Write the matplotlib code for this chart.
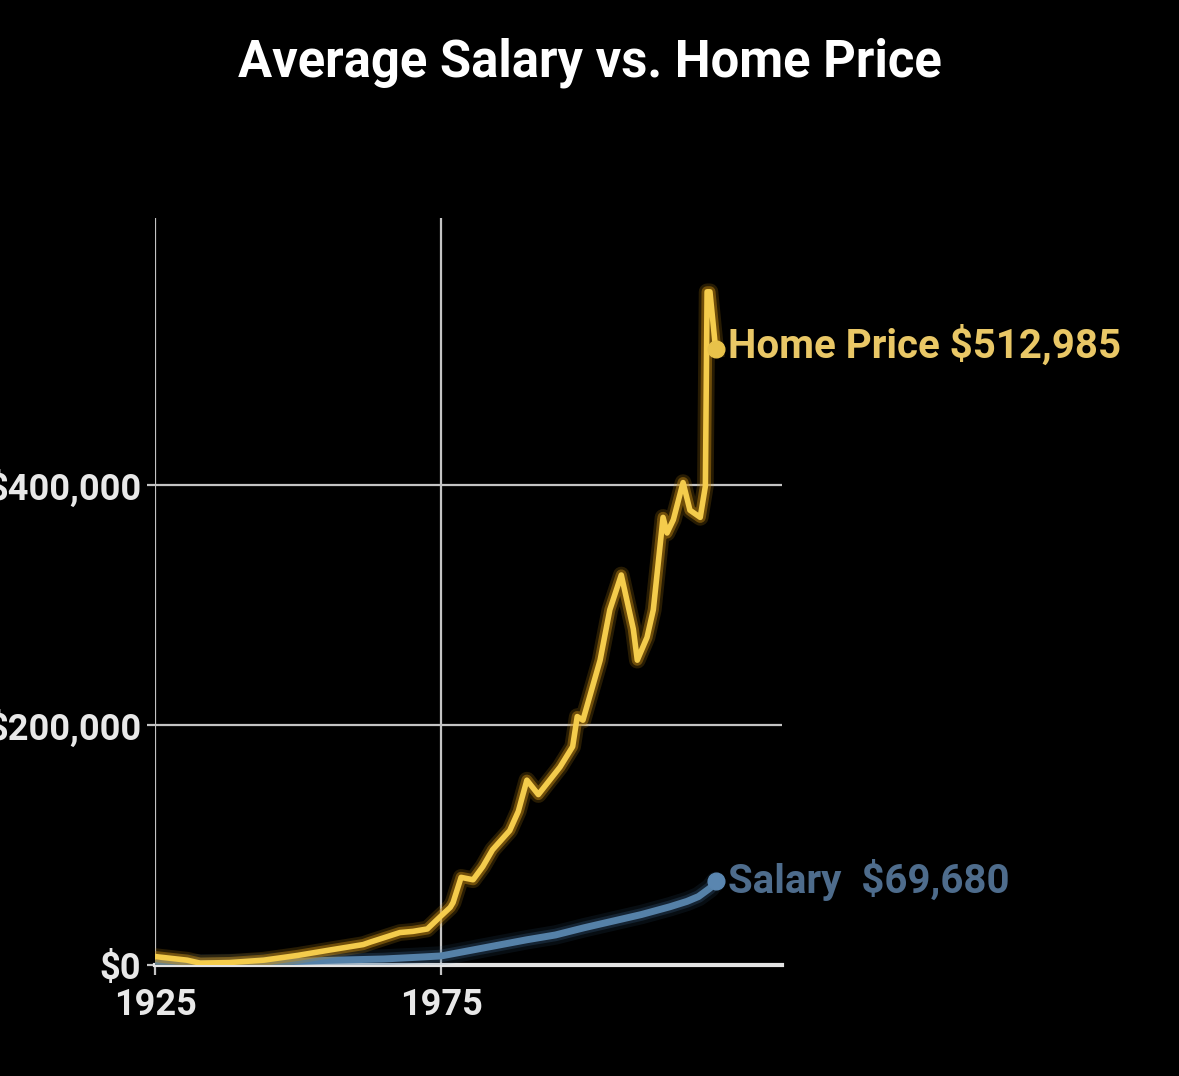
import matplotlib
matplotlib.use("Agg")
import matplotlib.pyplot as plt
import matplotlib.patheffects as pe
from matplotlib.ticker import FuncFormatter

# home price
home_years = [1925, 1930.6, 1932.9, 1938, 1944, 1950, 1955.6, 1961.4, 1962.6, 1967.8,
              1970.1, 1972.6, 1974.8, 1976.6, 1977.1, 1978.5, 1980.6, 1982.3, 1984,
              1987, 1988.5, 1990, 1992, 1995.8, 1998, 1998.8, 1999.8, 2002.8, 2004.5,
              2006.5, 2008.6, 2009.3, 2011, 2012.1, 2013.8, 2014.5, 2015.6, 2017.3,
              2018.5, 2020.3, 2021.2, 2021.5, 2022.0, 2023.0]
home_price = [7000, 4000, 1500, 2000, 4000, 8000, 12500, 17000, 19000, 27000,
              28000, 30000, 40000, 48000, 52000, 73000, 71000, 82000, 96000,
              112000, 128000, 154000, 142000, 165000, 182000, 207000, 204000, 254000, 296000,
              325000, 280000, 254000, 273000, 296000, 373000, 360000, 371000, 402000,
              379000, 373000, 399000, 561000, 561000, 512985]

# average salary
salary_years = [1925, 1933, 1940, 1950, 1955, 1960, 1965, 1970, 1975, 1980, 1985,
                1990, 1995, 2000, 2005, 2010, 2015, 2018, 2020, 2022, 2023.0]
salary = [1500, 1000, 1300, 3000, 3800, 4400, 5000, 6200, 7500, 12000, 16500,
          21000, 25000, 31000, 36500, 42000, 48500, 53000, 57000, 64000, 69680]

x_ticks = [1925, 1975]
y_ticks = [0, 200000, 400000]

title = "Average Salary vs. Home Price"
home_label = "Home Price $512,985"
salary_label = "Salary  $69,680"

font = "Roboto"
gold = "#f4cc4c"
blue = "#5581a8"
grid_col = "#c4c4c4"


def glow(color, widths=(13, 9), alphas=(0.15, 0.3)):
    # a few wide, faint strokes under the line
    effects = [pe.Stroke(linewidth=w, foreground=color, alpha=a) for w, a in zip(widths, alphas)]
    return effects + [pe.Normal()]


fig = plt.figure(figsize=(11.79, 10.76), dpi=100, facecolor="black")
ax = fig.add_axes([0.1315, 0.1032, 0.5318, 0.6942], facecolor="black")

ax.set_xlim(1925, 2034.6)
ax.set_ylim(0, 622500)

ax.set_xticks(x_ticks)
ax.set_yticks(y_ticks)
ax.yaxis.set_major_formatter(FuncFormatter(lambda v, p: "${:,.0f}".format(v)))
ax.grid(True, color=grid_col, linewidth=1.6)
ax.set_axisbelow(True)
ax.tick_params(axis="x", colors=grid_col, length=7, width=1.6, pad=9,
               labelsize=26, labelcolor="#e8e8e8")
ax.tick_params(axis="y", colors=grid_col, length=6, width=1.6, pad=4,
               labelsize=26, labelcolor="#e8e8e8")
for lab in ax.get_xticklabels() + ax.get_yticklabels():
    lab.set_fontfamily(font)
    lab.set_fontweight("bold")

for side in ["top", "right", "left"]:
    ax.spines[side].set_visible(False)
ax.spines["bottom"].set_color("#e4e4e4")
ax.spines["bottom"].set_linewidth(3)

# salary line, soft and wide
ax.plot(salary_years, salary, color=blue, linewidth=5, solid_capstyle="round",
        path_effects=glow("#3f6c96", (14, 9), (0.12, 0.25)), zorder=3)
ax.plot([salary_years[-1]], [salary[-1]], "o", color="#5a86b0", markersize=12,
        clip_on=False, zorder=4)

# home price line with warm glow
ax.plot(home_years, home_price, color=gold, linewidth=4, solid_joinstyle="round",
        path_effects=glow("#c98d14", (12, 8), (0.2, 0.45)), zorder=5)
ax.plot([home_years[-1]], [home_price[-1]], "o", color="#e8c24a", markersize=12,
        clip_on=False, zorder=6)

ax.annotate(home_label, xy=(home_years[-1], home_price[-1]), xytext=(9, 3),
            textcoords="offset points", ha="left", va="center", color="#e9c766",
            fontsize=29, fontweight="bold", family=font, annotation_clip=False)
ax.annotate(salary_label, xy=(salary_years[-1], salary[-1]), xytext=(9, 1),
            textcoords="offset points", ha="left", va="center", color="#4e6c8c",
            fontsize=29, fontweight="bold", family=font, annotation_clip=False)

fig.text(0.5, 1 - 63 / 1076, title, ha="center", va="center", color="white",
         fontsize=36.5, fontweight="bold", family=font)

fig.savefig("out.png", dpi=100, facecolor="black")
